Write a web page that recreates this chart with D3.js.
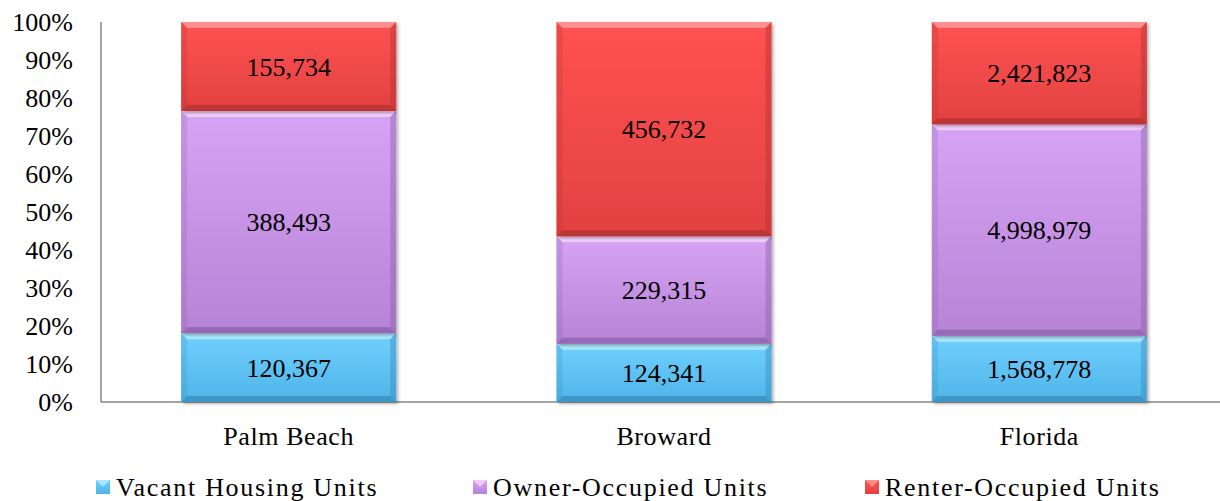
<!DOCTYPE html>
<html>
<head>
<meta charset="utf-8">
<script src="https://cdn.jsdelivr.net/npm/d3@7"></script>
<style>
  body { margin: 0; background: #fff; }
  text { font-family: "Liberation Serif", "DejaVu Serif", serif; fill: #000; }
</style>
</head>
<body>
<div id="chart"></div>
<script>
const regions = ['Palm Beach', 'Broward', 'Florida'];
const seriesNames = ['Vacant Housing Units', 'Owner-Occupied Units', 'Renter-Occupied Units'];
const vacant = [120367, 124341, 1568778];
const owner = [388493, 229315, 4998979];
const renter = [155734, 456732, 2421823];
const yTicks = [0, 0.1, 0.2, 0.3, 0.4, 0.5, 0.6, 0.7, 0.8, 0.9, 1];

const palette = [
  {top: '#70d0ff', bottom: '#4fb4e8', light: '#b5ecff', dark: '#3a8fc0'},
  {top: '#d7a3f5', bottom: '#b783d6', light: '#f4d6ff', dark: '#8e62aa'},
  {top: '#ff5252', bottom: '#e24141', light: '#ff9a9a', dark: '#b33232'}
];

const W = 1220, H = 501;
const margin = {top: 22, right: -7, bottom: 99, left: 101};
const width = W - margin.left - margin.right,
  height = H - margin.top - margin.bottom;

const rows = regions.map((r, i) => ({region: r, v0: vacant[i], v1: owner[i], v2: renter[i]}));
const stack = d3.stack().keys(['v0', 'v1', 'v2']).offset(d3.stackOffsetExpand);
const layers = stack(rows);

const x = d3.scaleBand().domain(regions).range([0, width]).paddingInner(0.427).paddingOuter(0.2135);
const y = d3.scaleLinear().domain([0, 1]).range([height, 0]);

const svg = d3.select('#chart').append('svg')
  .attr('width', W).attr('height', H);

const defs = svg.append('defs');
palette.forEach((c, i) => {
  const g = defs.append('linearGradient').attr('id', 'grad' + i)
    .attr('x1', 0).attr('y1', 0).attr('x2', 0).attr('y2', 1);
  g.append('stop').attr('offset', '0%').attr('stop-color', c.top);
  g.append('stop').attr('offset', '100%').attr('stop-color', c.bottom);
});
const shadow = defs.append('filter').attr('id', 'shadow')
  .attr('x', '-5%').attr('y', '-5%').attr('width', '115%').attr('height', '115%');
shadow.append('feDropShadow').attr('dx', 2).attr('dy', 2).attr('stdDeviation', 1.5)
  .attr('flood-color', '#000').attr('flood-opacity', 0.3);

const g = svg.append('g').attr('transform', `translate(${margin.left},${margin.top})`);

// axes
g.append('line').attr('x1', 0).attr('x2', 0).attr('y1', 0).attr('y2', height)
  .attr('stroke', '#868686').attr('stroke-width', 1.5);
g.append('line').attr('x1', 0).attr('x2', width).attr('y1', height).attr('y2', height)
  .attr('stroke', '#868686').attr('stroke-width', 1.5);

g.selectAll('.ytick').data(yTicks).enter().append('text')
  .attr('class', 'ytick')
  .attr('x', -28).attr('y', d => y(d)).attr('dy', '0.35em')
  .attr('text-anchor', 'end').style('font-size', '26px')
  .text(d3.format('.0%'));

g.selectAll('.xlab').data(regions).enter().append('text')
  .attr('class', 'xlab')
  .attr('x', d => x(d) + x.bandwidth() / 2).attr('y', height + 43)
  .attr('text-anchor', 'middle').style('font-size', '26px').style('letter-spacing', '0.6px')
  .text(d => d);

// bars
const bevel = 6;
layers.forEach((layer, li) => {
  const c = palette[li];
  const seg = g.append('g').selectAll('g').data(layer).enter().append('g')
    .attr('transform', d => `translate(${x(d.data.region)},${y(d[1])})`);
  const bw = x.bandwidth();
  seg.append('rect')
    .attr('width', bw).attr('height', d => y(d[0]) - y(d[1]))
    .attr('fill', `url(#grad${li})`).attr('filter', 'url(#shadow)');
  // bevel: light top, dark bottom, subtle sides
  seg.append('path')
    .attr('d', () => `M0,0 L${bw},0 L${bw - bevel},${bevel} L${bevel},${bevel} Z`)
    .attr('fill', c.light).attr('opacity', 0.85);
  seg.append('path')
    .attr('d', d => { const h = y(d[0]) - y(d[1]);
      return `M0,${h} L${bw},${h} L${bw - bevel},${h - bevel} L${bevel},${h - bevel} Z`; })
    .attr('fill', c.dark).attr('opacity', 0.8);
  seg.append('path')
    .attr('d', d => { const h = y(d[0]) - y(d[1]);
      return `M${bw},0 L${bw},${h} L${bw - bevel},${h - bevel} L${bw - bevel},${bevel} Z`; })
    .attr('fill', c.dark).attr('opacity', 0.45);
  seg.append('path')
    .attr('d', d => { const h = y(d[0]) - y(d[1]);
      return `M0,0 L0,${h} L${bevel},${h - bevel} L${bevel},${bevel} Z`; })
    .attr('fill', c.dark).attr('opacity', 0.25);
  seg.append('text')
    .attr('x', bw / 2).attr('y', d => (y(d[0]) - y(d[1])) / 2).attr('dy', '0.35em')
    .attr('text-anchor', 'middle').style('font-size', '26px')
    .text(d => d3.format(',')(d.data['v' + li]));
});

// legend
const legendX = [96, 473, 865];
const legend = svg.append('g').selectAll('g').data(seriesNames).enter().append('g')
  .attr('transform', (d, i) => `translate(${legendX[i]},${480})`);
legend.append('rect').attr('width', 14).attr('height', 14)
  .attr('fill', (d, i) => `url(#grad${i})`);
legend.append('path').attr('d', 'M0,0 L14,0 L7,7 Z')
  .attr('fill', (d, i) => palette[i].light).attr('opacity', 0.8);
legend.append('text').attr('x', 20).attr('y', 7).attr('dy', '0.35em')
  .style('font-size', '26px').style('letter-spacing', '1.7px').text(d => d);
</script>
</body>
</html>
